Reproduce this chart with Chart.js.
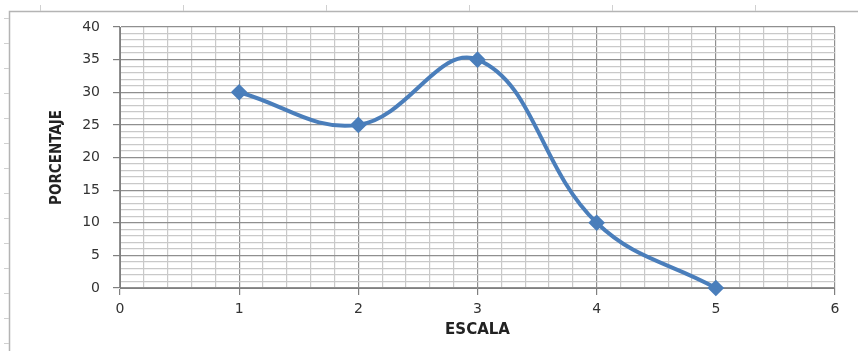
<!DOCTYPE html>
<html>
<head>
<meta charset="utf-8">
<script src="https://cdn.jsdelivr.net/npm/chart.js@4.4.1/dist/chart.umd.min.js"></script>
<style>
  html, body { margin: 0; padding: 0; background: #fff; }
  #wrap { width: 858px; height: 351px; position: relative; }
</style>
</head>
<body>
<div id="wrap"><canvas id="grafico"></canvas></div>
<script>
// escala vs porcentaje
const escala = [1, 2, 3, 4, 5];
const porcentaje = [30, 25, 35, 10, 0];
const xTickLabels = ['0', '1', '2', '3', '4', '5', '6'];
const yTickLabels = ['0', '5', '10', '15', '20', '25', '30', '35', '40'];

const tickFont = { family: "'DejaVu Sans', sans-serif", size: 14 };
const titleFont = { family: "'DejaVu Sans', sans-serif", size: 15, weight: 'bold' };
const majorGrid = '#8f8f8f';
const minorGrid = '#c9c9c9';

function isWhole(v) { return Math.abs(v - Math.round(v)) < 1e-6; }

// outer frame lines with little ruler stubs
const frame = {
  id: 'frame',
  beforeDraw(chart) {
    const ctx = chart.ctx;
    ctx.save();
    ctx.strokeStyle = '#b4b4b4';
    ctx.lineWidth = 1.5;
    ctx.beginPath();
    ctx.moveTo(9.5, 351);
    ctx.lineTo(9.5, 11.5);
    ctx.lineTo(858, 11.5);
    ctx.stroke();
    ctx.strokeStyle = '#d0d0d0';
    ctx.lineWidth = 1;
    ctx.beginPath();
    for (let x = 40; x < 858; x += 143) {
      ctx.moveTo(x + 0.5, 5);
      ctx.lineTo(x + 0.5, 11);
    }
    for (let y = 18; y < 351; y += 25) {
      ctx.moveTo(4, y + 0.5);
      ctx.lineTo(9, y + 0.5);
    }
    ctx.stroke();
    ctx.restore();
  }
};

const chart = new Chart(document.getElementById('grafico'), {
  type: 'scatter',
  data: {
    datasets: [{
      data: escala.map((x, i) => ({ x: x, y: porcentaje[i] })),
      showLine: true,
      tension: 0.4,
      clip: false,
      borderColor: '#4a7ebb',
      backgroundColor: '#4a7ebb',
      borderWidth: 4,
      pointStyle: 'rectRot',
      pointRadius: 5.5,
      pointHoverRadius: 5.5
    }]
  },
  options: {
    responsive: true,
    maintainAspectRatio: false,
    animation: false,
    layout: { padding: { left: 0, right: 23, top: 27, bottom: 0 } },
    plugins: { legend: { display: false }, tooltip: { enabled: false } },
    scales: {
      x: {
        type: 'linear',
        min: 0,
        max: 6,
        afterFit(scale) { scale.height = 63; },
        border: { color: '#7f7f7f', width: 1 },
        grid: {
          color: ctx => isWhole(ctx.tick.value) ? majorGrid : minorGrid,
          tickColor: ctx => isWhole(ctx.tick.value) ? '#7f7f7f' : 'rgba(0,0,0,0)',
          tickLength: 7,
          lineWidth: 1.2
        },
        ticks: {
          stepSize: 0.2,
          autoSkip: false,
          maxRotation: 0,
          padding: 6,
          color: '#333',
          font: tickFont,
          callback: v => isWhole(v) ? xTickLabels[Math.round(v)] : ''
        },
        title: {
          display: true,
          text: 'ESCALA',
          color: '#222',
          font: titleFont,
          padding: { top: 0, bottom: 12 }
        }
      },
      y: {
        min: 0,
        max: 40,
        afterFit(scale) { scale.width = 120; },
        border: { color: '#7f7f7f', width: 1 },
        grid: {
          color: ctx => ctx.tick.value % 5 === 0 ? majorGrid : minorGrid,
          tickColor: ctx => ctx.tick.value % 5 === 0 ? '#7f7f7f' : 'rgba(0,0,0,0)',
          tickLength: 7,
          lineWidth: 1.2
        },
        ticks: {
          stepSize: 1,
          autoSkip: false,
          padding: 13,
          color: '#333',
          font: tickFont,
          callback: v => v % 5 === 0 ? yTickLabels[v / 5] : ''
        },
        title: {
          display: true,
          text: 'PORCENTAJE',
          color: '#222',
          font: { family: "'Liberation Sans Narrow', 'DejaVu Sans Condensed', sans-serif", size: 15, weight: 'bold' },
          padding: { top: 48, bottom: 0 }
        }
      }
    }
  },
  plugins: [frame]
});
</script>
</body>
</html>
